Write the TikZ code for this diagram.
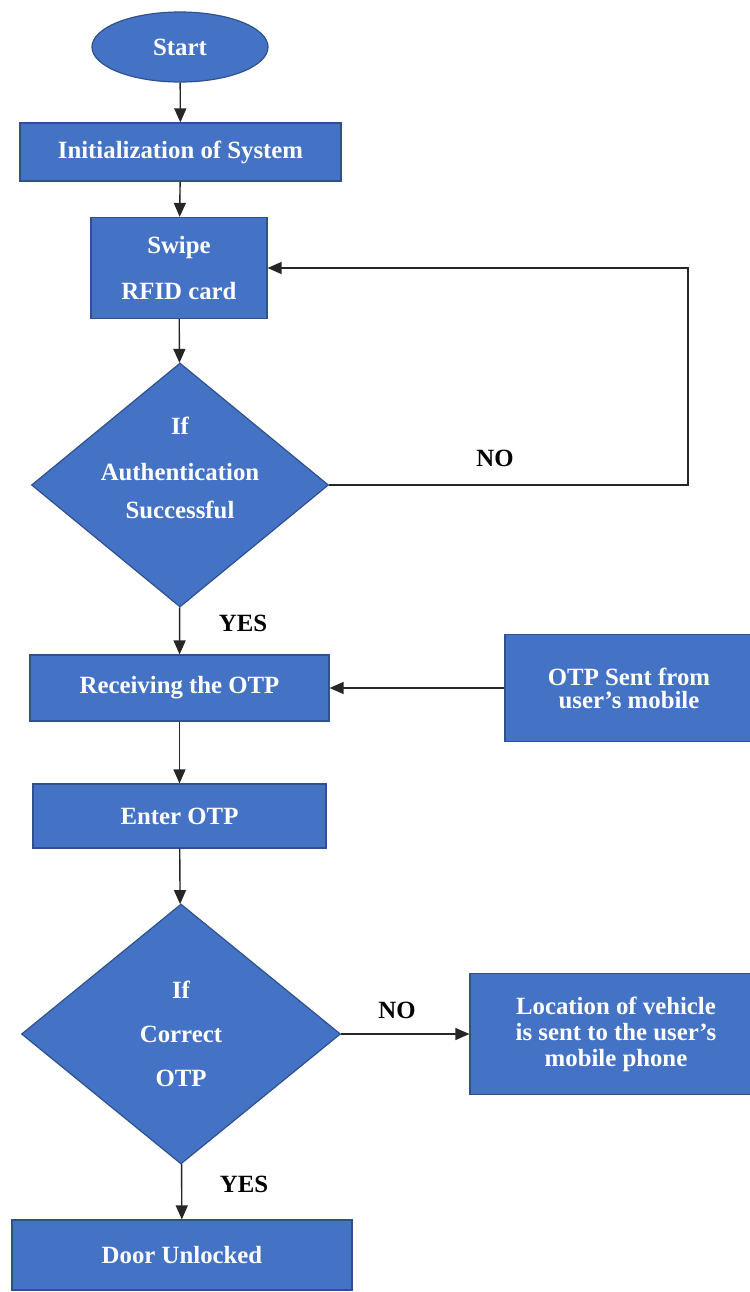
\documentclass[tikz,border=0pt]{standalone}
\usepackage{fontspec}
\setmainfont{Liberation Serif}
\usetikzlibrary{arrows.meta,shapes.geometric}
\definecolor{boxblue}{HTML}{4472C4}
\definecolor{boxedge}{HTML}{2F528F}

\begin{document}
\begin{tikzpicture}[x=0.5pt,y=-0.5pt,
  blk/.style={draw=boxedge,line width=0.6pt,fill=boxblue,text=white,font=\bfseries\fontsize{12.4}{13}\selectfont,align=center,inner sep=2pt},
  box/.style={blk,rectangle},
  dec/.style={blk,diamond,aspect=1.2,inner sep=0pt},
  lbl/.style={font=\bfseries\fontsize{12.4}{13}\selectfont},
  arr/.style={-{Triangle[length=7pt,width=6pt]},line width=0.7pt,draw=black!85}]
\useasboundingbox (0,0) rectangle (750,1292);
\fill[white] (0,0) rectangle (750,1292);
\node[blk,ellipse,minimum width=88pt,minimum height=35pt] (start) at (180,47) {Start};
\node[box,minimum width=160.5pt,minimum height=29pt] (init) at (180.5,152) {Initialization of System};
\node[box,minimum width=88pt,minimum height=50.5pt] (swipe) at (179,268) {Swipe\\[10pt]RFID card};
\node[dec,inner sep=-12pt,minimum width=148.5pt,minimum height=122pt] (auth) at (180,485) {If\\[10pt]Authentication\\[6pt]Successful\\[4pt]};
\node[box,minimum width=149.5pt,minimum height=33pt] (recv) at (179.5,688) {Receiving the OTP};
\node[box,minimum width=124pt,minimum height=53.5pt,font=\bfseries\fontsize{12.4}{11.5}\selectfont] (otpsent) at (629,688) {OTP Sent from\\user’s mobile};
\node[box,minimum width=146.5pt,minimum height=32pt] (enter) at (179.5,816) {Enter OTP};
\node[dec,minimum width=159.5pt,minimum height=130pt] (otpchk) at (181,1034) {If\\[9pt]Correct\\[9pt]OTP};
\node[box,minimum width=146pt,minimum height=60.5pt] (locsent) at (616,1034) {Location of vehicle\\is sent to the user’s\\mobile phone};
\node[box,minimum width=170pt,minimum height=35pt] (door) at (182,1255) {Door Unlocked};

\node[lbl] (no1) at (495,458) {NO};
\node[lbl] (yes1) at (243,623) {YES};
\node[lbl] (no2) at (397,1010) {NO};
\node[lbl] (yes2) at (244,1184) {YES};

\coordinate (loopc) at (688,485);
\draw[arr] (start) -- (init);
\draw[arr] (init) -- (swipe);
\draw[arr] (swipe) -- (auth);
\draw[arr] (auth.east) -- (loopc) |- (swipe.east);
\draw[arr] (auth) -- (recv);
\draw[arr] (otpsent) -- (recv);
\draw[arr] (recv) -- (enter);
\draw[arr] (enter) -- (otpchk);
\draw[arr] (otpchk) -- (locsent);
\draw[arr] (otpchk) -- (door);
\end{tikzpicture}
\end{document}
